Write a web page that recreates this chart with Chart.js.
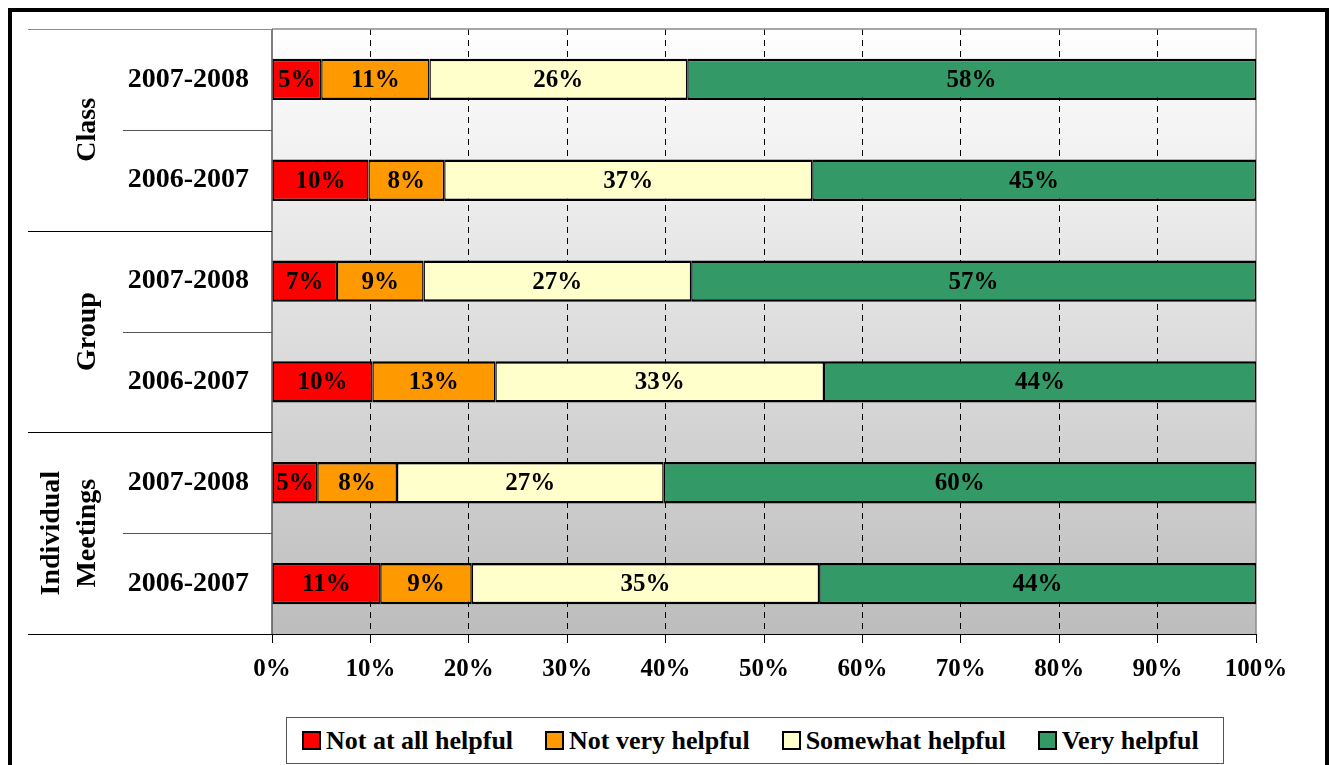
<!DOCTYPE html>
<html>
<head>
<meta charset="utf-8">
<script src="https://cdn.jsdelivr.net/npm/chart.js@4/dist/chart.umd.min.js"></script>
<style>
  html, body { margin: 0; padding: 0; background: #fff; overflow: hidden; }
  body { width: 1330px; height: 765px; position: relative; font-family: "Liberation Serif", "Times New Roman", serif; }
  #frame { position: absolute; left: 8px; top: 8px; width: 1313px; height: 800px; border: 4px solid #000; border-bottom: none; }
  #chart { position: absolute; left: 0; top: 0; }
  #legend { position: absolute; left: 286px; top: 717px; width: 938px; height: 47px; border: 1px solid #555;
            box-sizing: border-box; display: flex; align-items: center; padding-left: 15px;
            font-weight: bold; font-size: 26px; color: #000; background: #fff; }
  .item { display: flex; align-items: center; margin-right: 32px; white-space: nowrap; }
  .swatch { width: 15px; height: 15px; border: 2px solid #000; margin-right: 5px; }
</style>
</head>
<body>
<div id="frame"></div>
<canvas id="chart" width="1330" height="765"></canvas>
<div id="legend"></div>
<script>
// Helpfulness ratings by meeting type, two school years each (top to bottom)
const categories  = ['2007-2008', '2006-2007', '2007-2008', '2006-2007', '2007-2008', '2006-2007'];
const groups      = [['Class'], ['Group'], ['Individual', 'Meetings']];
const seriesNames = ['Not at all helpful', 'Not very helpful', 'Somewhat helpful', 'Very helpful'];
const notAtAll    = [5.0, 9.8, 6.6, 10.2, 4.6, 11.0];
const notVery     = [11.0, 7.7, 8.8, 12.5, 8.1, 9.3];
const somewhat    = [26.2, 37.4, 27.2, 33.4, 27.1, 35.3];
const very        = [57.8, 45.1, 57.4, 43.9, 60.2, 44.4];
const xTicks      = [0, 10, 20, 30, 40, 50, 60, 70, 80, 90, 100];

const colors = ['#ff0000', '#ff9900', '#ffffcc', '#339966'];
const FONT = '"Liberation Serif", "Times New Roman", serif';

// gray gradient behind the plot + frame
const backdrop = {
  id: 'backdrop',
  beforeDraw(chart) {
    const { ctx, chartArea: a } = chart;
    const g = ctx.createLinearGradient(0, a.top, 0, a.bottom);
    g.addColorStop(0, '#ffffff');
    g.addColorStop(1, '#bdbdbd');
    ctx.save();
    ctx.fillStyle = g;
    ctx.fillRect(a.left, a.top, a.right - a.left, a.bottom - a.top);
    ctx.restore();
  },
  beforeDatasetsDraw(chart) {
    const { ctx, chartArea: a } = chart;
    ctx.save();
    ctx.lineWidth = 1.5;
    ctx.strokeStyle = '#8c8c8c';
    ctx.beginPath();
    ctx.moveTo(a.left, a.top); ctx.lineTo(a.right, a.top); ctx.lineTo(a.right, a.bottom);
    ctx.stroke();
    ctx.strokeStyle = '#555';
    ctx.beginPath();
    ctx.moveTo(a.left, a.top); ctx.lineTo(a.left, a.bottom);
    ctx.stroke();
    ctx.restore();
  }
};

// percentage labels in the middle of each segment
const segLabels = {
  id: 'segLabels',
  afterDatasetsDraw(chart) {
    const { ctx } = chart;
    ctx.save();
    ctx.font = 'bold 25px ' + FONT;
    ctx.fillStyle = '#000';
    ctx.textAlign = 'center';
    ctx.textBaseline = 'middle';
    chart.data.datasets.forEach((ds, i) => {
      chart.getDatasetMeta(i).data.forEach((bar, j) => {
        const p = bar.getCenterPoint();
        ctx.fillText(Math.round(ds.data[j]) + '%', p.x, p.y + 1);
      });
    });
    ctx.restore();
  }
};

// multi-level category axis: separators + rotated group names
const groupAxis = {
  id: 'groupAxis',
  afterDraw(chart) {
    const { ctx, chartArea: a, scales: { y } } = chart;
    const h = (a.bottom - a.top) / categories.length;
    ctx.save();
    for (let i = 0; i <= categories.length; i++) {
      const yy = Math.round(a.top + i * h) + 0.5;
      const outer = i % 2 === 0;
      ctx.strokeStyle = i === 0 ? '#8c8c8c' : (outer ? '#000' : '#555');
      ctx.lineWidth = 1.2;
      ctx.beginPath();
      ctx.moveTo(outer ? 28 : 123, yy);
      ctx.lineTo(a.left, yy);
      ctx.stroke();
    }
    // bottom axis line
    ctx.strokeStyle = '#000';
    ctx.beginPath();
    ctx.moveTo(a.left, a.bottom + 0.5); ctx.lineTo(a.right, a.bottom + 0.5);
    ctx.stroke();

    ctx.font = 'bold 28px ' + FONT;
    ctx.fillStyle = '#000';
    ctx.textAlign = 'center';
    ctx.textBaseline = 'middle';
    groups.forEach((lines, k) => {
      const cy = (y.getPixelForValue(2 * k) + y.getPixelForValue(2 * k + 1)) / 2;
      lines.forEach((line, n) => {
        const cx = 88 - (lines.length - 1 - n) * 36;
        ctx.save();
        ctx.translate(cx, cy);
        ctx.rotate(-Math.PI / 2);
        ctx.fillText(line, 0, 0);
        ctx.restore();
      });
    });
    ctx.restore();
  }
};

const seriesData = [notAtAll, notVery, somewhat, very];

new Chart(document.getElementById('chart'), {
  type: 'bar',
  data: {
    labels: categories,
    datasets: seriesNames.map((name, i) => ({
      label: name,
      data: seriesData[i],
      backgroundColor: colors[i],
      borderColor: '#000',
      borderWidth: { top: 2.5, bottom: 2.5, left: 1.4, right: 1.4 },
      borderSkipped: false,
      barPercentage: 0.41,
      categoryPercentage: 1,
    })),
  },
  options: {
    indexAxis: 'y',
    responsive: false,
    animation: false,
    layout: { padding: { top: 29, right: 74, bottom: 71, left: 0 } },
    plugins: { legend: { display: false }, tooltip: { enabled: false } },
    scales: {
      x: {
        stacked: true,
        min: 0, max: 100,
        afterBuildTicks: s => { s.ticks = xTicks.map(v => ({ value: v })); },
        afterFit: s => { s.height = 60; s.paddingLeft = 0; s.paddingRight = 0; },
        border: { display: false, dash: [6, 5] },
        grid: {
          color: c => (c.tick && (c.tick.value === 0 || c.tick.value === 100)) ? 'rgba(0,0,0,0)' : '#000',
          lineWidth: 1,
          tickLength: 9,
          tickColor: '#000',
          tickBorderDash: [],
        },
        ticks: {
          color: '#000',
          padding: 12,
          font: { family: FONT, size: 25, weight: 'bold' },
          callback: v => v + '%',
        },
      },
      y: {
        stacked: true,
        afterFit: s => { s.width = 272; s.paddingTop = 0; s.paddingBottom = 0; },
        border: { display: false },
        grid: { display: false, drawTicks: false },
        ticks: {
          color: '#000',
          padding: 23,
          font: { family: FONT, size: 28, weight: 'bold' },
        },
      },
    },
  },
  plugins: [backdrop, segLabels, groupAxis],
});

// legend
const legendEl = document.getElementById('legend');
seriesNames.forEach((name, i) => {
  const item = document.createElement('div');
  item.className = 'item';
  item.innerHTML = `<span class="swatch" style="background:${colors[i]}"></span><span>${name}</span>`;
  legendEl.appendChild(item);
});
</script>
</body>
</html>
